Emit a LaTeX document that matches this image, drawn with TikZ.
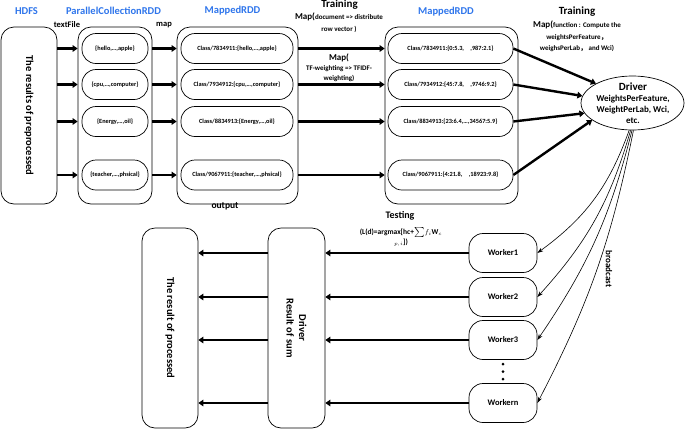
\documentclass[tikz,border=0pt]{standalone}
\usepackage{fontspec}
\setmainfont{Carlito}
\newfontfamily\cjk{Noto Sans CJK SC}
\usetikzlibrary{arrows.meta,shapes.geometric}
\definecolor{rddblue}{RGB}{46,117,235}
\newcommand\sz[2]{\fontsize{#1pt}{#2pt}\selectfont}
\tikzset{
  head/.style={text=rddblue, inner sep=0pt, font=\bfseries\sz{10.5}{12}},
  lbl/.style={inner sep=0pt, align=center, font=\bfseries\sz{#1}{11.5}},
  tall/.style={draw, line width=0.7pt, rounded corners=13pt, minimum width=#1, minimum height=177pt, inner sep=0pt},
  cell/.style={draw, line width=0.7pt, rounded corners=14pt, minimum width=#1, minimum height=30pt, inner sep=0pt, font=\bfseries\sz{6.3}{7}},
  wbox/.style={draw, line width=0.7pt, rounded corners=14pt, minimum width=68pt, minimum height=39pt, inner sep=0pt, font=\bfseries\sz{8.5}{10}},
  ell/.style={draw, ellipse, line width=0.7pt, minimum width=103pt, minimum height=54pt, inner sep=0pt},
  vtext/.style={rotate=-90, inner sep=0pt, align=center, font=\bfseries\sz{10.5}{12.5}},
  fat/.style={draw, line width=2.4pt, -{Triangle[length=5pt,width=6.5pt]}},
  cast/.style={line width=0.6pt, -{Stealth[length=6pt,width=4pt]}}
}

\begin{document}
\begin{tikzpicture}[x=1pt,y=-1pt]
  \useasboundingbox (0,0) rectangle (685,429);

  \node[head] (tHDFS) at ( 26.5,11) {HDFS};
  \node[head] (tPC)   at (113.5,11) {ParallelCollectionRDD};
  \node[head] (tM)    at (232.5,11) {MappedRDD};
  \node[head] (tV)    at (446.0,12) {MappedRDD};
  \node[lbl=8.5] (lText) at ( 67,25) {textFile};
  \node[lbl=8.5] (lMap)  at (164,25) {map};
  \node[lbl=11] (lTrainA) at (339.5,5) {Training};
  \node[lbl=7] (lDoc) at (339,22.5) {{\sz{9}{11.5}Map(}document => distribute\\row vector )};
  \node[lbl=7, font=\bfseries\sz{7}{10}] (lTF) at (339,67.5) {{\sz{9}{10}Map(}\\TF-weighting => TFIDF-\\weighting)};
  \node[lbl=11] (lTrainB) at (577,12) {Training};
  \node[lbl=7] (lFun) at (577,36.5) {{\sz{9}{11.5}Map(}function : Compute the\\weightsPerFeature{\cjk ，}\\weighsPerLab{\cjk ，} and Wci)};

  \node[tall=56pt]  (hdfs) at ( 29.0,115.5) {};
  \node[vtext] (hdfsTxt) at (hdfs) {The results of preprocessed};
  \node[tall=74pt]  (pcc)  at (115.0,115.5) {};
  \node[tall=121pt] (mc)   at (237.5,115.5) {};
  \node[tall=133pt] (vc)   at (451.5,115.5) {};

  \node[cell=66pt] (pc1) at (115,48.5)  {\{hello,…,apple\}};
  \node[cell=66pt] (pc2) at (115,84.5)  {\{cpu,…,computer\}};
  \node[cell=66pt] (pc3) at (115,121.5) {\{Energy,…,oil\}};
  \node[cell=66pt] (pc4) at (115,175)   {\{teacher,…,phsical\}};

  \node[cell=112pt] (m1) at (237,48.5)  {Class/7834911:\{hello,…,apple\}};
  \node[cell=112pt] (m2) at (237,84.5)  {Class/7934912:\{cpu,…,computer\}};
  \node[cell=112pt] (m3) at (237,121.5) {Class/8834913:\{Energy,…,oil\}};
  \node[cell=112pt] (m4) at (237,175)   {Class/9067911:\{teacher,…,phsical\}};

  \node[cell=125pt] (v1) at (450.5,48.5)  {Class/7834911:\{0:5.3,\quad,987:2.1\}};
  \node[cell=125pt] (v2) at (450.5,84.5)  {Class/7934912:\{45:7.8,\quad,9746:9.2\}};
  \node[cell=125pt] (v3) at (450.5,121.5) {Class/8834913:\{23:6.4,…,34567:5.9\}};
  \node[cell=125pt] (v4) at (450.5,175)   {Class/9067911:\{4:21.8,\quad,18923:9.8\}};

  \path (hdfs.east |- pc1) edge[fat] (pcc.west |- pc1)
        (hdfs.east |- pc2) edge[fat] (pcc.west |- pc2)
        (hdfs.east |- pc3) edge[fat] (pcc.west |- pc3)
        (hdfs.east |- pc4) edge[fat] (pcc.west |- pc4);
  \path (pcc.east |- m1) edge[fat] (mc.west |- m1)
        (pcc.east |- m2) edge[fat] (mc.west |- m2)
        (pcc.east |- m3) edge[fat] (mc.west |- m3)
        (pcc.east |- m4) edge[fat] (mc.west |- m4);
  \path (mc.east |- v1) edge[fat] (vc.west |- v1)
        (mc.east |- v2) edge[fat] (vc.west |- v2)
        (mc.east |- v3) edge[fat] (vc.west |- v3)
        (mc.east |- v4) edge[fat] (vc.west |- v4);

  \node[ell] (drv) at (632.5,103) {};
  \node[lbl=9, font=\bfseries\sz{9}{11}] (drvTxt) at (633,103.5) {{\sz{11}{13}Driver}\\WeightsPerFeature,\\WeightPerLab, Wci,\\etc.};
  \path (v1.east) edge[fat] (drv.152)
        (v2.east) edge[fat] (drv.172)
        (v3.east) edge[fat] (drv.192)
        (v4.east) edge[fat] (drv.203);

  \node[wbox] (w1) at (503,253) {Worker1};
  \node[wbox] (w2) at (503,297) {Worker2};
  \node[wbox] (w3) at (503,340) {Worker3};
  \node[wbox] (wn) at (503,403) {Workern};
  \fill (503,364) circle (1.5pt) (503,371.5) circle (1.5pt) (503,379) circle (1.5pt);

  \draw[cast] (drv.263) to[bend left=17] (w1.east);
  \draw[cast] (drv.266) to[bend left=13] (w2.east);
  \draw[cast] (drv.269) to[bend left=10] (w3.east);
  \draw[cast] (drv.272) to[bend left=8] (wn.east);
  \node[lbl=9, rotate=-90] (lCast) at (609,269) {broadcast};

  \node[tall=57pt, minimum height=200pt] (dbox) at (296.5,328) {};
  \node[vtext] (dboxTxt) at (dbox) {Driver\\Result of sum};
  \node[tall=56pt, minimum height=200pt] (res) at (170,328) {};
  \node[vtext] (resTxt) at (res) {The result of processed};

  \node[lbl=9.5] (lOut) at (225,206) {output};
  \node[lbl=10] (lTest) at (400,215.5) {Testing};
  \node[lbl=7.5, font=\bfseries\sz{7.5}{10}] (lForm) at (401,237) {(L(d)=argmax[hc+${\scriptstyle\sum}f_i$W$_c$\\$_{p,i}$])};

  \path (w1.west) edge[fat] (dbox.east |- w1)
        (w2.west) edge[fat] (dbox.east |- w2)
        (w3.west) edge[fat] (dbox.east |- w3)
        (wn.west) edge[fat] (dbox.east |- wn);
  \path (dbox.west |- w1) edge[fat] (res.east |- w1)
        (dbox.west |- w2) edge[fat] (res.east |- w2)
        (dbox.west |- w3) edge[fat] (res.east |- w3)
        (dbox.west |- wn) edge[fat] (res.east |- wn);
\end{tikzpicture}
\end{document}
